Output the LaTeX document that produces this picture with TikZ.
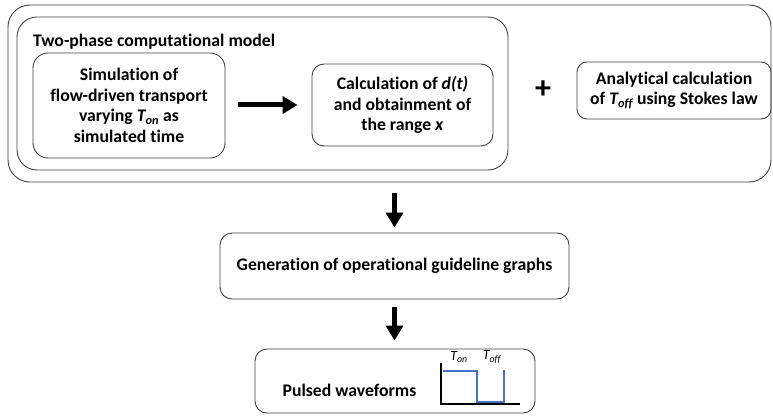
\documentclass[tikz,border=0pt]{standalone}
\usepackage{fontspec}
\setmainfont{Carlito}[Ligatures=NoCommon]
\usetikzlibrary{arrows.meta}
\definecolor{waveblue}{HTML}{4472C4}
\tikzset{
  box/.style={draw=black!75, line width=0.9pt, rounded corners=#1, align=center,
    font=\fontsize{17.7}{20.5}\selectfont\bfseries, inner sep=0pt},
  box/.default=12pt,
  fatarrow/.style={line width=5pt, -{Triangle[width=17pt,length=15pt]}},
  wlabel/.style={font=\fontsize{14}{15}\selectfont\itshape, inner sep=0pt}
}
\begin{document}
\begin{tikzpicture}[x=1pt, y=-1pt]
\useasboundingbox (0,0) rectangle (773,417);
% outer frame and the two-phase model group
\node[box=22pt, minimum width=763pt, minimum height=177pt] (outer) at (389.5,93.5) {};
\node[box=20pt, minimum width=491pt, minimum height=153pt] (model) at (262.5,93.5) {};
\node[anchor=west, font=\fontsize{17.7}{20}\selectfont\bfseries, inner sep=0pt] (title) at (33,42) {Two-phase computational model};
% steps of the model
\node[box=15pt, minimum width=192pt, minimum height=105pt] (sim) at (129,105.5)
  {Simulation of\\flow-driven transport\\varying \textit{T\textsubscript{on}} as\\simulated time};
\node[box=12pt, minimum width=181pt, minimum height=82pt] (calc) at (402.5,105)
  {Calculation of \textit{d(t)}\\and obtainment of\\the range \textit{x}};
\node[font=\fontsize{32}{32}\selectfont\bfseries, inner sep=0pt] (plus) at (543,90) {+};
\node[box=10pt, minimum width=194pt, minimum height=57pt] (analyt) at (674,90.5)
  {Analytical calculation\\of \textit{T\textsubscript{off}} using Stokes law};
% lower chain
\node[box=12pt, minimum width=349pt, minimum height=66pt] (gen) at (394.5,266)
  {Generation of operational guideline graphs};
\node[box=12pt, minimum width=280pt, minimum height=64pt] (pulsed) at (395,381) {};
\node[font=\fontsize{17.7}{20}\selectfont\bfseries, inner sep=0pt] (ptext) at (349.5,390) {Pulsed waveforms};
% connectors
\draw[fatarrow, shorten <=13pt, shorten >=14pt] (sim.east |- calc.west) -- (calc.west);
\draw[fatarrow, shorten <=11pt, shorten >=5pt] (gen.north |- outer.south) -- (gen.north);
\draw[fatarrow, shorten <=8pt, shorten >=8pt] (gen.south) -- (gen.south |- pulsed.north);
% pulse waveform sketch
\coordinate (ytop) at (441,363);
\coordinate (orig) at (441,404);
\coordinate (xend) at (520,404);
\draw[line width=1.6pt, black] (ytop) -- (orig) -- (xend);
\coordinate (w0) at (443,371);
\coordinate (w1) at (477,371);
\coordinate (w2) at (477,402);
\coordinate (w3) at (504,402);
\coordinate (w4) at (504,370);
\draw[line width=2.4pt, waveblue] (w0) -- (w1) -- (w2) -- (w3) -- (w4);
\node[wlabel] (ton) at (459,357) {T\textsubscript{on}};
\node[wlabel] (toff) at (492,357) {T\textsubscript{off}};
\end{tikzpicture}
\end{document}
